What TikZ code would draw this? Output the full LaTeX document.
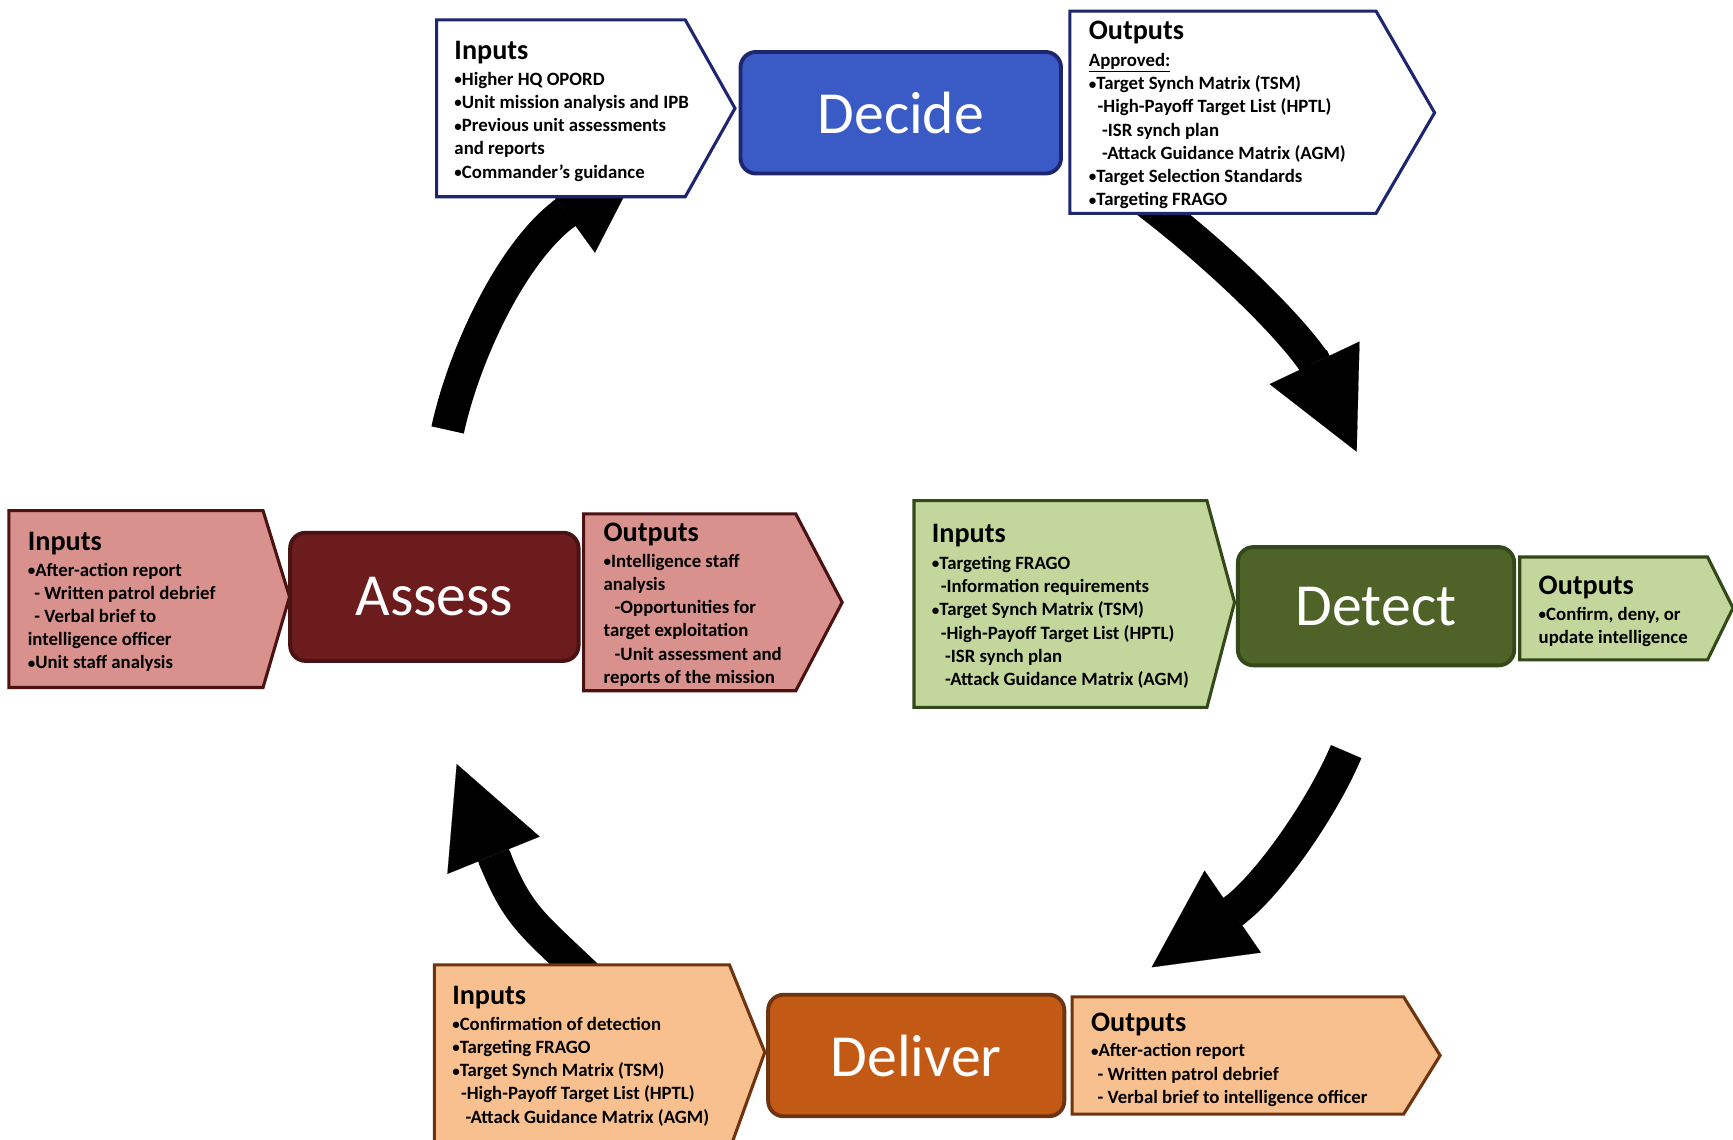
\documentclass[tikz,border=0pt]{standalone}
\usepackage{fontspec}
\setmainfont{Carlito}
\usetikzlibrary{arrows.meta}
\definecolor{navy}{HTML}{1E2670}
\definecolor{decblue}{HTML}{3A5AC6}
\definecolor{maroondk}{HTML}{4A1212}
\definecolor{assessfill}{HTML}{6C1C1C}
\definecolor{pinkfill}{HTML}{D8918C}
\definecolor{greendk}{HTML}{34491A}
\definecolor{detectfill}{HTML}{4F6228}
\definecolor{lgreen}{HTML}{C3D69B}
\definecolor{browndk}{HTML}{6E3410}
\definecolor{deliverfill}{HTML}{C25A16}
\definecolor{lorange}{HTML}{F9C08F}
\newcommand{\bulx}{\raisebox{0.6pt}{\scalebox{0.8}{•}}}
\newcommand{\indx}[1]{\hspace*{#1pt}}
\newcommand{\bodyfnt}{\fontsize{17}{21}\selectfont\bfseries}
\newcommand{\headfnt}{\fontsize{25.5}{28}\selectfont\bfseries}
\newcommand{\bigfnt}{\fontsize{54}{60}\selectfont}
\begin{document}
\begin{tikzpicture}[x=1pt,y=-1pt,line join=miter,
  bodytxt/.style={font=\bodyfnt, align=left, anchor=north west, inner sep=0pt, text=black},
  headtxt/.style={font=\headfnt, anchor=base west, inner sep=0pt, text=black},
  stagebox/.style={rounded corners=14pt, line width=3.5pt, font=\bigfnt, text=white, inner sep=0pt},
  panel/.style={line width=2.8pt},
  shaft/.style={line width=30pt, draw=black},
  arrowhead/.style={line width=30pt, draw=black, -{Triangle[width=90pt,length=89pt,line width=0.1pt]}}]
\useasboundingbox (0,0) rectangle (1568,1031);
\fill[white] (0,0) rectangle (1568,1031);

% arrows: curved shaft to the head base, then the head (boxes cover hidden ends)
\coordinate (a1s) at (405,389);
\coordinate (a1b) at (511.9,192.2);
\coordinate (a1h) at (507.9,195.1);
\coordinate (a1e) at (584,140);
\draw[shaft] (a1s) .. controls (419.9,320.5) and (463.4,227.5) .. (a1b);
\draw[arrowhead] (a1h) -- (a1e);

\coordinate (a2s) at (1024,172);
\coordinate (a2b) at (1189.1,327.7);
\coordinate (a2h) at (1187,323.2);
\coordinate (a2e) at (1227.5,408.7);
\draw[shaft] (a2s) .. controls (1088,219) and (1160.6,286.7) .. (a2b);
\draw[arrowhead] (a2h) -- (a2e);

\coordinate (a3s) at (1218,680);
\coordinate (a3b) at (1115.2,824.9);
\coordinate (a3h) at (1119.3,822.1);
\coordinate (a3e) at (1042,875.2);
\draw[shaft] (a3s) .. controls (1194.6,735.2) and (1144,805) .. (a3b);
\draw[arrowhead] (a3h) -- (a3e);

\coordinate (a4s) at (540,892);
\coordinate (a4b) at (447.2,775.6);
\coordinate (a4h) at (449.1,780.2);
\coordinate (a4e) at (413.2,691.3);
\draw[shaft] (a4s) .. controls (481.6,835.6) and (469.6,831.2) .. (a4b);
\draw[arrowhead] (a4h) -- (a4e);

% ---------------- Decide ----------------
\filldraw[panel, draw=navy, fill=white] (395,18) -- (620,18) -- (665,98) -- (620,178) -- (395,178) -- cycle;
\node[headtxt] (decInH) at (411,54) {Inputs};
\node[bodytxt] (decIn) at (411,62.3) {\strut\bulx Higher HQ OPORD\\
\bulx Unit mission analysis and IPB\\
\bulx Previous unit assessments\\
and reports\\
\bulx Commander’s guidance};
\node[stagebox, draw=navy, fill=decblue, minimum width=290pt, minimum height=110pt] (decide) at (815,102) {Decide};
\filldraw[panel, draw=navy, fill=white] (968,10) -- (1245,10) -- (1298,102) -- (1245,193) -- (968,193) -- cycle;
\node[headtxt] (decOutH) at (985,36) {Outputs};
\node[bodytxt] (decOut) at (985,45.3) {\strut\underline{Approved:}\\
\bulx Target Synch Matrix (TSM)\\
\indx{8}-High-Payoff Target List (HPTL)\\
\indx{12}-ISR synch plan\\
\indx{12}-Attack Guidance Matrix (AGM)\\
\bulx Target Selection Standards\\
\bulx Targeting FRAGO};

% ---------------- Assess ----------------
\filldraw[panel, draw=maroondk, fill=pinkfill] (8,462) -- (238,462) -- (262,540) -- (238,622) -- (8,622) -- cycle;
\node[headtxt] (assInH) at (25,498) {Inputs};
\node[bodytxt] (assIn) at (25,506.3) {\strut\bulx After-action report\\
\indx{6}- Written patrol debrief\\
\indx{6}- Verbal brief to\\
intelligence officer\\
\bulx Unit staff analysis};
\node[stagebox, draw=maroondk, fill=assessfill, minimum width=261pt, minimum height=116pt] (assess) at (393,540) {Assess};
\filldraw[panel, draw=maroondk, fill=pinkfill] (528,465) -- (720,465) -- (762,545) -- (720,625) -- (528,625) -- cycle;
\node[headtxt] (assOutH) at (546,490) {Outputs};
\node[bodytxt] (assOut) at (546,498.3) {\strut\bulx Intelligence staff\\
analysis\\
\indx{10}-Opportunities for\\
target exploitation\\
\indx{10}-Unit assessment and\\
reports of the mission};

% ---------------- Detect ----------------
\filldraw[panel, draw=greendk, fill=lgreen] (827,453) -- (1092,453) -- (1117,545) -- (1092,640) -- (827,640) -- cycle;
\node[headtxt] (detInH) at (843,491) {Inputs};
\node[bodytxt] (detIn) at (843,500.3) {\strut\bulx Targeting FRAGO\\
\indx{8}-Information requirements\\
\bulx Target Synch Matrix (TSM)\\
\indx{8}-High-Payoff Target List (HPTL)\\
\indx{12}-ISR synch plan\\
\indx{12}-Attack Guidance Matrix (AGM)};
\node[stagebox, draw=greendk, fill=detectfill, minimum width=250pt, minimum height=107pt] (detect) at (1245,548.5) {Detect};
\filldraw[panel, draw=greendk, fill=lgreen] (1375,504) -- (1545,504) -- (1568,550) -- (1545,597) -- (1375,597) -- cycle;
\node[headtxt] (detOutH) at (1392,538) {Outputs};
\node[bodytxt] (detOut) at (1392,546.3) {\strut\bulx Confirm, deny, or\\
update intelligence};

% ---------------- Deliver ----------------
\filldraw[panel, draw=browndk, fill=lorange] (393,873) -- (660,873) -- (692,952) -- (662,1035) -- (393,1035) -- cycle;
\node[headtxt] (delInH) at (409,909) {Inputs};
\node[bodytxt] (delIn) at (409,917.3) {\strut\bulx Confirmation of detection\\
\bulx Targeting FRAGO\\
\bulx Target Synch Matrix (TSM)\\
\indx{8}-High-Payoff Target List (HPTL)\\
\indx{12}-Attack Guidance Matrix (AGM)};
\node[stagebox, draw=browndk, fill=deliverfill, minimum width=268pt, minimum height=110pt] (deliver) at (829,955) {Deliver};
\filldraw[panel, draw=browndk, fill=lorange] (970,902) -- (1270,902) -- (1303,955) -- (1270,1008) -- (970,1008) -- cycle;
\node[headtxt] (delOutH) at (987,933) {Outputs};
\node[bodytxt] (delOut) at (987,941.3) {\strut\bulx After-action report\\
\indx{6}- Written patrol debrief\\
\indx{6}- Verbal brief to intelligence officer};
\end{tikzpicture}
\end{document}
